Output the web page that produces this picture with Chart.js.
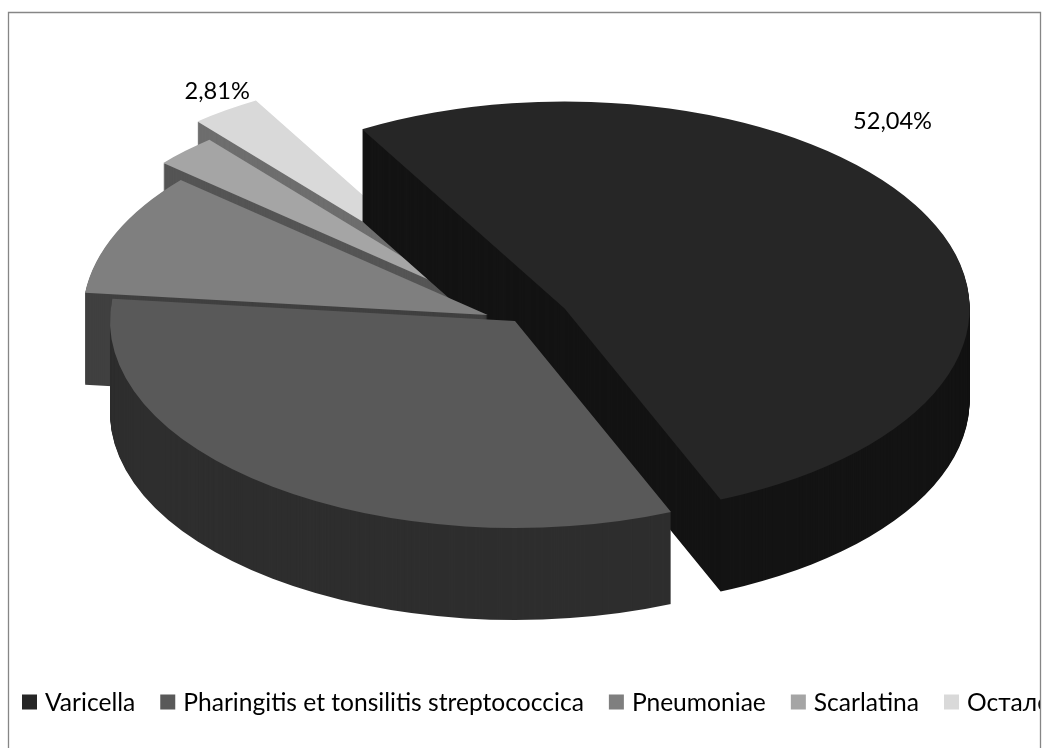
<!DOCTYPE html>
<html>
<head>
<meta charset="utf-8">
<script src="https://cdn.jsdelivr.net/npm/chart.js@4.4.0/dist/chart.umd.min.js"></script>
<style>
  body { margin: 0; background: #fff; }
  canvas { display: block; }
</style>
</head>
<body>
<canvas id="mycanvas" width="1044" height="748"></canvas>
<script>
// data (percent of cases)
var labels = ['Varicella', 'Pharingitis et tonsilitis streptococcica', 'Pneumoniae', 'Scarlatina', 'Остале'];
var percents = [52.04, 33.0, 9.6, 2.55, 2.81];
var shownLabels = ['Varicella', 'Остале'];

var topColors = ['#262626', '#595959', '#7f7f7f', '#a5a5a5', '#d9d9d9'];
var sideColors = ['#141414', '#2e2e2e', '#404040', '#555555', '#6e6e6e'];

var FONT = 'Lato, "Open Sans", sans-serif';

// size a font so that a sample string gets a given width
function fitFont(ctx, sample, width)
{
  ctx.font = '100px ' + FONT;
  var size = 100 * width / ctx.measureText(sample).width;
  return size.toFixed(1) + 'px ' + FONT;
}

// tilted, extruded pie: each slice drawn by its own arc element
var pie3d =
{
  id: 'pie3d',
  beforeDatasetsDraw: function(chart)
  {
    var ctx = chart.ctx;
    var view = chart.options.plugins.pie3d;
    var arcs = chart.getDatasetMeta(0).data;
    var order = arcs.map(function(a, i) { return i; });
    order.sort(function(a, b)
    {
      var ha = (arcs[a].startAngle + arcs[a].endAngle) / 2;
      var hb = (arcs[b].startAngle + arcs[b].endAngle) / 2;
      return Math.sin(ha) - Math.sin(hb);
    });

    order.forEach(function(i)
    {
      var arc = arcs[i];
      var h = (arc.startAngle + arc.endAngle) / 2;
      var ex = Math.cos(h) * view.explode[i];
      var ey = Math.sin(h) * view.explode[i];
      var topOpts = arc.options;
      var sideOpts = Object.assign({}, topOpts, { backgroundColor: sideColors[i], borderWidth: 0 });
      for (var d = view.depth; d >= 0; d--)
      {
        ctx.save();
        ctx.translate(view.cx, view.cy + d);
        ctx.scale(view.sx, view.sy);
        ctx.translate(ex - arc.x, ey - arc.y);
        arc.options = d > 0 ? sideOpts : topOpts;
        arc.draw(ctx);
        arc.options = topOpts;
        ctx.restore();
      }
    });
    return false;
  },
  afterDraw: function(chart)
  {
    var ctx = chart.ctx;
    var view = chart.options.plugins.pie3d;
    var arcs = chart.getDatasetMeta(0).data;

    // percentage labels
    ctx.save();
    ctx.fillStyle = '#000';
    ctx.textAlign = 'center';
    ctx.textBaseline = 'middle';
    ctx.font = fitFont(ctx, '52,04%', 79);
    shownLabels.forEach(function(name)
    {
      var i = labels.indexOf(name);
      var arc = arcs[i];
      var place = view.labelPlace[i];
      var h = (arc.startAngle + arc.endAngle) / 2;
      var r = arc.outerRadius * place[0];
      var x = view.cx + view.sx * Math.cos(h) * r;
      var y = view.cy + view.sy * Math.sin(h) * r + place[1];
      ctx.fillText(percents[i].toFixed(2).replace('.', ',') + '%', x, y);
    });
    ctx.restore();

    // legend, clipped by the frame like the original
    ctx.save();
    ctx.beginPath();
    ctx.rect(0, 0, 1040, chart.height);
    ctx.clip();
    ctx.font = fitFont(ctx, labels[1], 400);
    ctx.textBaseline = 'middle';
    var lx = 22, ly = 702;
    labels.forEach(function(name, i)
    {
      ctx.fillStyle = topColors[i];
      ctx.fillRect(lx, ly - 7.5, 15, 15);
      ctx.fillStyle = '#000';
      ctx.fillText(name, lx + 23, ly + 1);
      lx += 23 + ctx.measureText(name).width + 25;
    });
    ctx.restore();

    // chart frame
    ctx.save();
    ctx.strokeStyle = '#868686';
    ctx.lineWidth = 1.3;
    ctx.beginPath();
    ctx.moveTo(8.5, chart.height + 2);
    ctx.lineTo(8.5, 12.5);
    ctx.lineTo(1040.5, 12.5);
    ctx.lineTo(1040.5, chart.height + 2);
    ctx.stroke();
    ctx.restore();
  }
};

var ctx = document.getElementById('mycanvas');

var chartdata =
{
  labels: labels,
  datasets: [
    {
      data: percents,
      backgroundColor: topColors,
      borderWidth: 0,
      radius: 300
    }
  ]
};

var pieChart = new Chart(ctx,
{
  type: 'pie',
  data: chartdata,
  plugins: [pie3d],
  options:
  {
    responsive: false,
    animation: false,
    rotation: -30,
    events: [],
    layout: { padding: 0 },
    plugins:
    {
      legend: { display: false },
      tooltip: { enabled: false },
      pie3d:
      {
        cx: 515, cy: 321, sx: 1.35, sy: 0.69, depth: 92,
        explode: [41, 0, 22, 47, 73],
        labelPlace: [[1.04, -104], null, null, null, [1.28, -13]]
      }
    }
  }
});
</script>
</body>
</html>
